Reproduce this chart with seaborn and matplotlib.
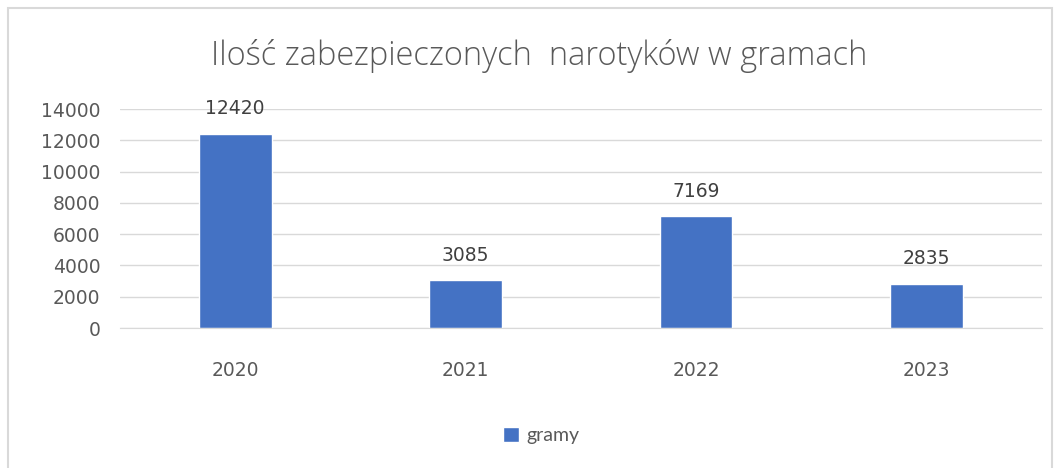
import matplotlib
matplotlib.use("Agg")
import matplotlib.pyplot as plt
from matplotlib.patches import Rectangle
import seaborn as sns
import pandas as pd

years = ["2020", "2021", "2022", "2023"]
grams = [12420, 3085, 7169, 2835]
series_name = "gramy"
title = "Ilość zabezpieczonych  narotyków w gramach"

bar_color = "#4472C4"
grid_color = "#D9D9D9"
text_color = "#595959"

sns.set_style("white")
plt.rcParams["font.family"] = ["DejaVu Sans"]

df = pd.DataFrame({"rok": years, "gramy": grams})

fig = plt.figure(figsize=(10.62, 4.68), dpi=100)
ax = fig.add_axes([0.113, 0.299, 0.868, 0.468])

sns.barplot(data=df, x="rok", y="gramy", color=bar_color, width=0.315,
            saturation=1, ax=ax, label=series_name)

ax.set_ylim(0, 14000)
ax.set_yticks(range(0, 14001, 2000))
ax.set_xlim(-0.5, len(years) - 0.5)
ax.yaxis.grid(True, color=grid_color, linewidth=1)
ax.set_axisbelow(True)
for s in ["top", "right", "left"]:
    ax.spines[s].set_visible(False)
ax.spines["bottom"].set_color(grid_color)
ax.tick_params(axis="both", length=0, labelsize=13.5, colors=text_color)
ax.tick_params(axis="y", pad=14)
ax.tick_params(axis="x", pad=24)
ax.set_xlabel("")
ax.set_ylabel("")

for i, v in enumerate(grams):
    ax.annotate(str(v), (i, v), xytext=(0, 11), textcoords="offset points",
                ha="center", va="bottom", fontsize=13.5, color="#404040")

fig.text(0.508, 0.88, title, ha="center", va="center", fontsize=23.5,
         color=text_color, family=["Open Sans"], fontweight="light")

leg = ax.legend(loc="center", bbox_to_anchor=(0.51, 0.07),
                bbox_transform=fig.transFigure, frameon=False,
                handlelength=0.8, handleheight=0.8, handletextpad=0.4,
                prop={"family": "Lato", "size": 14})
for t in leg.get_texts():
    t.set_color(text_color)

fig.patches.append(Rectangle((8 / 1062, -0.01), 1044 / 1062, 1 - 8 / 468 + 0.01,
                             transform=fig.transFigure, fill=False,
                             edgecolor=grid_color, linewidth=1.5))

fig.savefig("out.png", dpi=100)
